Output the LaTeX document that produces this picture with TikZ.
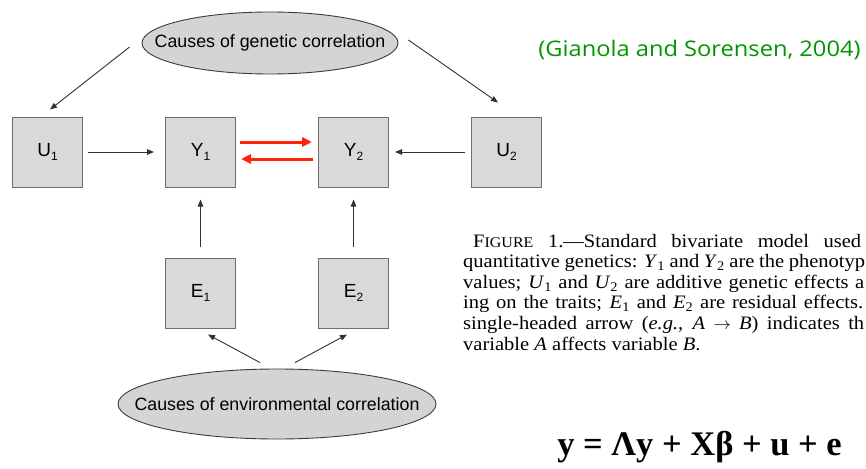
\documentclass[tikz,border=0pt]{standalone}
\usepackage{fontspec}
\setmainfont{Liberation Serif}
\newfontfamily\boxfont{Liberation Sans}
\newfontfamily\capfont[FakeStretch=1.08]{Liberation Serif}
\newfontfamily\citefont[FakeStretch=1.1]{Open Sans}
\usetikzlibrary{arrows.meta,shapes.geometric}
\definecolor{boxfill}{RGB}{217,217,217}
\definecolor{boxline}{RGB}{110,110,110}
\definecolor{ellfill}{RGB}{212,212,212}
\definecolor{ellline}{RGB}{60,60,60}
\definecolor{arrcol}{RGB}{50,50,50}
\definecolor{redarr}{RGB}{255,35,10}
\definecolor{citegreen}{RGB}{0,150,0}
\newcommand{\sub}[1]{\raisebox{-4.5pt}{\fontsize{12pt}{12pt}\selectfont #1}}
\tikzset{
  varbox/.style={draw=boxline, fill=boxfill, line width=1pt, minimum width=70pt, minimum height=70pt, inner sep=0pt, font=\boxfont\fontsize{19pt}{20pt}\selectfont},
  cause/.style={ellipse, draw=ellline, fill=ellfill, line width=0.9pt, inner sep=0pt},
  causetext/.style={inner sep=0pt, font=\boxfont\fontsize{17.8pt}{19pt}\selectfont},
  thinarr/.style={draw=arrcol, line width=0.9pt, -{Triangle[length=7pt,width=5.5pt]}},
  redarrow/.style={draw=redarr, line width=3pt, -{Triangle[length=10pt,width=9pt]}},
  capline/.style={anchor=base west, inner sep=0pt, font=\capfont\fontsize{19pt}{20pt}\selectfont}
}
\begin{document}
\begin{tikzpicture}[x=1pt,y=-1pt]
\useasboundingbox (0,0) rectangle (866,468);
\clip (0,0) rectangle (866,468);
\fill[white] (0,0) rectangle (866,468);

% cause ellipses
\node[cause, minimum width=256pt, minimum height=62pt] (gen) at (270,43) {};
\node[causetext] (gentext) at (gen.center) {Causes of genetic correlation};
\node[cause, minimum width=318pt, minimum height=70pt] (env) at (277,404) {};
\node[causetext] (envtext) at (env.center) {Causes of environmental correlation};

% variable boxes
\node[varbox] (U1) at (47.5,152) {U\sub{1}};
\node[varbox] (Y1) at (200.5,152) {Y\sub{1}};
\node[varbox] (Y2) at (353.5,152) {Y\sub{2}};
\node[varbox] (U2) at (506.5,152) {U\sub{2}};
\node[varbox] (E1) at (200.5,293) {E\sub{1}};
\node[varbox] (E2) at (353.5,293) {E\sub{2}};

% connectors
\draw[thinarr] ([xshift=-12pt,yshift=-4pt]gen.west) -- ([xshift=2.5pt,yshift=7pt]U1.north);
\draw[thinarr] ([xshift=10pt,yshift=3pt]gen.east) -- ([xshift=-8.5pt,yshift=14pt]U2.north);
\draw[thinarr] ([xshift=5pt]U1.east) -- ([xshift=-11pt]Y1.west);
\draw[thinarr] ([xshift=-6pt]U2.west) -- ([xshift=6pt]Y2.east);
\draw[thinarr] ([yshift=11pt]E1.north) -- ([yshift=-12pt]Y1.south);
\draw[thinarr] ([yshift=11pt]E2.north) -- ([yshift=-12pt]Y2.south);
\draw[thinarr] ([xshift=-17pt,yshift=6pt]env.north) -- ([xshift=7.5pt,yshift=-6pt]E1.south);
\draw[thinarr] ([xshift=18pt,yshift=6pt]env.north) -- ([xshift=-6.5pt,yshift=-6pt]E2.south);
\draw[redarrow] ([xshift=4pt,yshift=10pt]Y1.east) -- ([xshift=-6pt,yshift=10pt]Y2.west);
\draw[redarrow] ([xshift=-5pt,yshift=-7pt]Y2.west) -- ([xshift=5pt,yshift=-7pt]Y1.east);

% citation
\node[anchor=center, inner sep=0pt, text=citegreen, font=\citefont\fontsize{21.5pt}{23pt}\selectfont] (cite) at (699.5,50) {(Gianola and Sorensen, 2004)};

% caption
\node[capline] (cap1) at (473,247) {\makebox[388pt][s]{F{\fontsize{14.8pt}{15pt}\selectfont IGURE} 1.—Standard bivariate model used}};
\node[capline] (cap2) at (463,267.6) {\makebox[402pt][s]{quantitative genetics: \textit{Y}\textsubscript{1} and \textit{Y}\textsubscript{2} are the phenotyp}};
\node[capline] (cap3) at (463,288.2) {\makebox[401pt][s]{values; \textit{U}\textsubscript{1} and \textit{U}\textsubscript{2} are additive genetic effects a}};
\node[capline] (cap4) at (463,308.8) {\makebox[400pt][s]{ing on the traits; \textit{E}\textsubscript{1} and \textit{E}\textsubscript{2} are residual effects.}};
\node[capline] (cap5) at (463,329.4) {\makebox[401pt][s]{single-headed arrow (\textit{e.g.}, \textit{A} $\rightarrow$ \textit{B}) indicates th}};
\node[capline] (cap6) at (463,350) {variable \textit{A} affects variable \textit{B}.};

% equation
\node[anchor=base, inner sep=0pt, font=\bfseries\fontsize{34.5pt}{36pt}\selectfont] (eq) at (699.5,455) {y = Λy + Xβ + u + e};
\end{tikzpicture}
\end{document}
